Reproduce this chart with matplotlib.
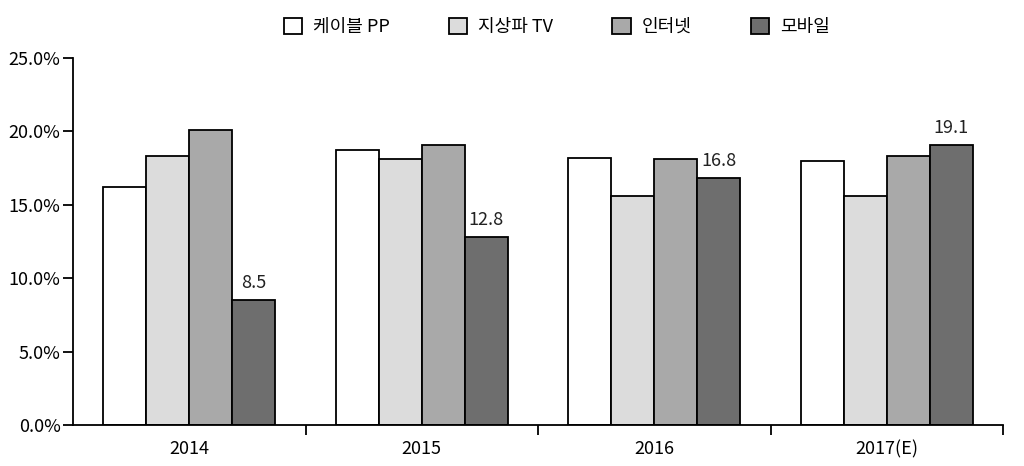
import numpy as np
import matplotlib
matplotlib.use("Agg")
import matplotlib.pyplot as plt
from matplotlib.ticker import FuncFormatter

plt.rcParams['font.family'] = ['Noto Sans CJK KR', 'DejaVu Sans']
plt.rcParams['font.weight'] = 'light'

years = ["2014", "2015", "2016", "2017(E)"]
series = ["케이블 PP", "지상파 TV", "인터넷", "모바일"]
cable = [16.2, 18.7, 18.2, 18.0]
terrestrial = [18.3, 18.1, 15.6, 15.6]
internet = [20.1, 19.1, 18.1, 18.3]
mobile = [8.5, 12.8, 16.8, 19.1]
colors = ["#ffffff", "#dcdcdc", "#a9a9a9", "#6e6e6e"]

fig = plt.figure(figsize=(10.24, 4.66), dpi=100)
ax = fig.add_axes([0.0713, 0.088, 0.9082, 0.7875])

x = np.arange(len(years))
w = 0.185
for i, (vals, c, name) in enumerate(zip([cable, terrestrial, internet, mobile], colors, series)):
    ax.bar(x + (i - 1.5) * w, vals, w, color=c, edgecolor="black", linewidth=1.3, label=name)

for xi, v in zip(x, mobile):
    ax.text(xi + 1.5 * w, v + 0.55, f"{v:.1f}", ha="center", va="bottom", fontsize=13, color="#222")

ax.set_xlim(-0.5, len(years) - 0.5)
ax.set_ylim(0, 25)
ax.set_yticks(np.arange(0, 26, 5))
ax.yaxis.set_major_formatter(FuncFormatter(lambda v, p: f"{v:.1f}%"))
ax.set_xticks(x)
ax.set_xticklabels(years)
ax.set_xticks(np.arange(len(years)) + 0.5, minor=True)
ax.tick_params(axis="x", which="major", length=0, labelsize=13, pad=11)
ax.tick_params(axis="x", which="minor", length=7, width=1.3, direction="out")
ax.tick_params(axis="y", length=7, width=1.3, labelsize=13, direction="out", pad=2)
for s in ["top", "right"]:
    ax.spines[s].set_visible(False)
for s in ["left", "bottom"]:
    ax.spines[s].set_linewidth(1.3)

ax.legend(loc="center", bbox_to_anchor=(0.52, 1.085), ncol=4, frameon=False,
          fontsize=13, handlelength=1.0, handleheight=1.0, columnspacing=3.3,
          handletextpad=0.6, borderaxespad=0)

fig.savefig("out.png", dpi=100)
